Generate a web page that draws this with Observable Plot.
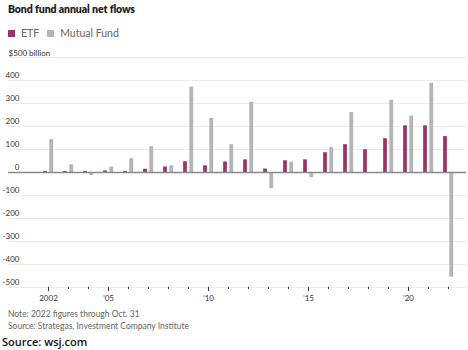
<!DOCTYPE html>
<html>
<head>
<meta charset="utf-8">
<script src="https://cdn.jsdelivr.net/npm/d3@7"></script>
<script src="https://cdn.jsdelivr.net/npm/@observablehq/plot@0.6"></script>
<style>
  html, body { margin: 0; padding: 0; background: #fff; width: 468px; height: 350px; overflow: hidden; position: relative; font-family: Lato, "Open Sans", sans-serif; }
  #title { position: absolute; left: 8px; top: 3px; font-family: Lato, sans-serif; font-weight: 800; font-size: 10.5px; color: #222; letter-spacing: -0.1px; }
  #legend { position: absolute; left: 8px; top: 27px; font-size: 10.5px; color: #666; display: flex; align-items: center; }
  #legend .sw { display: inline-block; width: 7px; height: 7px; margin-right: 6px; }
  #legend .item { display: flex; align-items: center; margin-right: 8px; }
  #chart { position: absolute; left: 0; top: 45px; }
  #note { position: absolute; left: 8px; top: 308px; font-size: 8.5px; color: #666; line-height: 12px; }
  #src { position: absolute; left: 2px; top: 334px; font-family: "Open Sans", sans-serif; font-weight: 600; font-size: 11px; color: #111; }
</style>
</head>
<body>
<div id="title">Bond fund annual net flows</div>
<div id="legend"></div>
<div id="chart"></div>
<div id="note">Note: 2022 figures through Oct. 31<br>Source: Strategas, Investment Company Institute</div>
<div id="src">Source: wsj.com</div>
<script>
const years = [2002,2003,2004,2005,2006,2007,2008,2009,2010,2011,2012,2013,2014,2015,2016,2017,2018,2019,2020,2021,2022];
const etf = [5,4,5,7,5,14,24,47,29,46,55,15,51,55,86,121,99,147,203,203,156];
const mutualFund = [143,33,-13,24,60,112,29,371,235,121,305,-70,45,-22,108,261,-1,314,245,388,-455];
const seriesNames = ["ETF", "Mutual Fund"];
const seriesColors = ["#a0306a", "#b4b4b4"];
const yTicks = [-500,-400,-300,-200,-100,0,100,200,300,400];
const topTick = [500];
const xLabelYears = [2002, 2005, 2010, 2015, 2020];
const tickLabel = y => y === 2002 ? "2002" : "\u2019" + String(y).slice(2);

// legend
const leg = document.getElementById("legend");
seriesNames.forEach((n, i) => {
  const it = document.createElement("span");
  it.className = "item";
  it.innerHTML = `<span class="sw" style="background:${seriesColors[i]}"></span>${n}`;
  leg.appendChild(it);
});

const etfData = years.map((y, i) => ({year: y, value: etf[i]}));
const mfData = years.map((y, i) => ({year: y, value: mutualFund[i]}));

const W = 468, H = 262;
const mL = 35.6, mR = 6.6;
const band = (W - mL - mR) / years.length;
const half = band / 2;

const chart = Plot.plot({
  width: W,
  height: H,
  marginLeft: mL,
  marginRight: mR,
  marginTop: 12,
  marginBottom: 20,
  x: {type: "band", domain: years, padding: 0, axis: null},
  y: {domain: [-500, 500], axis: null},
  style: {fontFamily: "Lato, sans-serif", background: "transparent"},
  marks: [
    Plot.ruleY(yTicks.concat(topTick).filter(d => d !== 0), {stroke: "#ebebeb", strokeWidth: 1, insetLeft: -(mL - 8), insetRight: -(mR - 2)}),
    Plot.barY(etfData, {x: "year", y: "value", fill: seriesColors[0], insetLeft: half - 5, insetRight: half + 1}),
    Plot.barY(mfData, {x: "year", y: "value", fill: seriesColors[1], insetLeft: half + 1.2, insetRight: half - 5.3}),
    Plot.ruleY([0], {stroke: "#8a8a8a", strokeWidth: 1.3, insetLeft: -(mL - 8), insetRight: -(mR - 2)}),
    Plot.axisY(yTicks, {anchor: "left", label: null, tickSize: 0, textAnchor: "end", dx: -7.6, dy: -5, fontSize: 8, fill: "#333", tickFormat: d => d === 0 ? "0" : String(d)}),
    Plot.axisY(topTick, {anchor: "left", label: null, tickSize: 0, textAnchor: "start", dx: 8 - mL, dy: -4, fontSize: 8, fill: "#333", tickFormat: () => "$500 billion", tickPadding: 0}),
    Plot.axisX(years.filter(y => !xLabelYears.includes(y)), {anchor: "bottom", label: null, tickSize: 2, stroke: "#333", tickFormat: () => "", tickPadding: 0}),
    Plot.axisX(xLabelYears, {anchor: "bottom", label: null, tickSize: 4, stroke: "#333", tickFormat: tickLabel, fontSize: 8, fill: "#333", tickPadding: 4})
  ]
});
document.getElementById("chart").appendChild(chart);
</script>
</body>
</html>
